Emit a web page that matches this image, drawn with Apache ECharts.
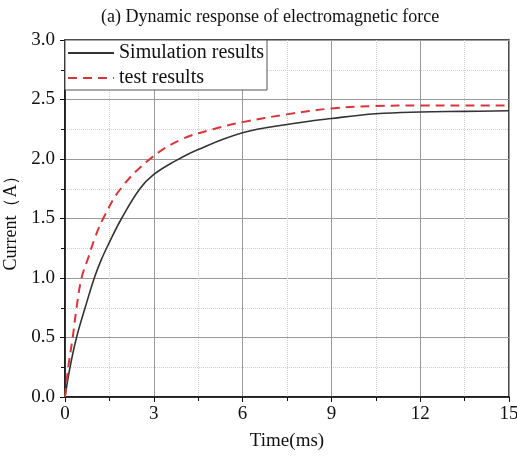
<!DOCTYPE html>
<html>
<head>
<meta charset="utf-8">
<script src="https://cdn.jsdelivr.net/npm/echarts@6/dist/echarts.min.js"></script>
<style>
  html, body { margin: 0; padding: 0; background: #fff; }
  #chart { width: 517px; height: 457px; }
</style>
</head>
<body>
<div id="chart"></div>
<script>
// values (time in ms, current in A)
var simTime = [0, 0.17, 0.39, 0.68, 0.99, 1.22, 1.5, 1.91, 2.53, 3, 3.7, 4.5, 6, 7.5, 9, 10.5, 12, 13.5, 15];
var simCurrent = [0, 0.25, 0.5, 0.75, 1.0, 1.15, 1.3, 1.5, 1.75, 1.87, 1.98, 2.08, 2.22, 2.29, 2.34, 2.38, 2.395, 2.40, 2.405];

var testTime = [0, 0.11, 0.26, 0.39, 0.56, 0.8, 1.0, 1.29, 1.88, 2.87, 3.89, 5, 6, 7.5, 9, 10.5, 12, 13.5, 15];
var testCurrent = [0, 0.25, 0.5, 0.75, 1.0, 1.18, 1.33, 1.5, 1.75, 2.0, 2.16, 2.25, 2.31, 2.375, 2.425, 2.445, 2.45, 2.45, 2.45];

var seriesNames = ["Simulation results", "test results"];

function pairs(xs, ys) {
    var out = [];
    for (var i = 0; i < xs.length; i++) {
        out.push([xs[i], ys[i]]);
    }
    return out;
}

var font = "'Liberation Serif', 'Times New Roman', serif";
var chart = echarts.init(document.getElementById('chart'));

var option = {
    backgroundColor: '#fff',
    animation: false,
    textStyle: { fontFamily: font },
    title: {
        text: "(a) Dynamic response of electromagnetic force",
        left: 96,
        top: 3,
        textStyle: { fontFamily: font, fontSize: 18, fontWeight: 'normal', color: '#111' }
    },
    legend: {
        data: seriesNames,
        orient: 'vertical',
        left: 65,
        top: 40,
        padding: [3, 3, 2, 2],
        itemGap: 5,
        itemWidth: 46,
        itemHeight: 12,
        borderColor: '#555',
        borderWidth: 1,
        backgroundColor: '#fff',
        itemStyle: { opacity: 0 },
        textStyle: { fontFamily: font, fontSize: 20, color: '#111' }
    },
    grid: {
        left: 65,
        right: 8,
        top: 40,
        bottom: 60,
        outerBoundsMode: 'none',
        containLabel: false,
        show: true,
        borderColor: '#111',
        borderWidth: 1.5
    },
    xAxis: {
        type: 'value',
        min: 0,
        max: 15,
        interval: 3,
        name: "Time(ms)",
        nameLocation: 'middle',
        nameGap: 35,
        nameTextStyle: { fontFamily: font, fontSize: 19, color: '#111' },
        axisLine: { lineStyle: { color: '#111', width: 1.5 } },
        axisTick: { show: true, inside: false, length: 5, lineStyle: { color: '#111' } },
        minorTick: { show: true, splitNumber: 2, length: 4, lineStyle: { color: '#111' } },
        axisLabel: { fontFamily: font, fontSize: 19, color: '#111', margin: 8 },
        splitLine: { show: true, lineStyle: { color: '#9a9a9a', width: 1 } },
        minorSplitLine: { show: true, lineStyle: { color: '#cfcfcf', type: 'dotted', width: 1 } }
    },
    yAxis: {
        type: 'value',
        min: 0,
        max: 3,
        interval: 0.5,
        name: "Current（A）",
        nameLocation: 'middle',
        nameGap: 31,
        nameTextStyle: { fontFamily: font, fontSize: 18, color: '#111' },
        axisLine: { show: true, lineStyle: { color: '#111', width: 1.5 } },
        axisTick: { show: true, inside: false, length: 5, lineStyle: { color: '#111' } },
        minorTick: { show: true, splitNumber: 2, length: 4, lineStyle: { color: '#111' } },
        axisLabel: {
            fontFamily: font, fontSize: 19, color: '#111', margin: 10,
            formatter: function(v) { return v.toFixed(1); }
        },
        splitLine: { show: true, lineStyle: { color: '#9a9a9a', width: 1 } },
        minorSplitLine: { show: true, lineStyle: { color: '#cfcfcf', type: 'dotted', width: 1 } }
    },
    series: [
        {
            name: seriesNames[0],
            type: 'line',
            smooth: 0.4,
            symbol: 'none',
            data: pairs(simTime, simCurrent),
            itemStyle: { color: '#333' },
            lineStyle: { color: '#333', width: 1.6 }
        },
        {
            name: seriesNames[1],
            type: 'line',
            smooth: 0.4,
            symbol: 'none',
            data: pairs(testTime, testCurrent),
            itemStyle: { color: '#d8353a' },
            lineStyle: { color: '#d8353a', width: 2, type: [9, 6] }
        }
    ]
};

chart.setOption(option);
</script>
</body>
</html>
